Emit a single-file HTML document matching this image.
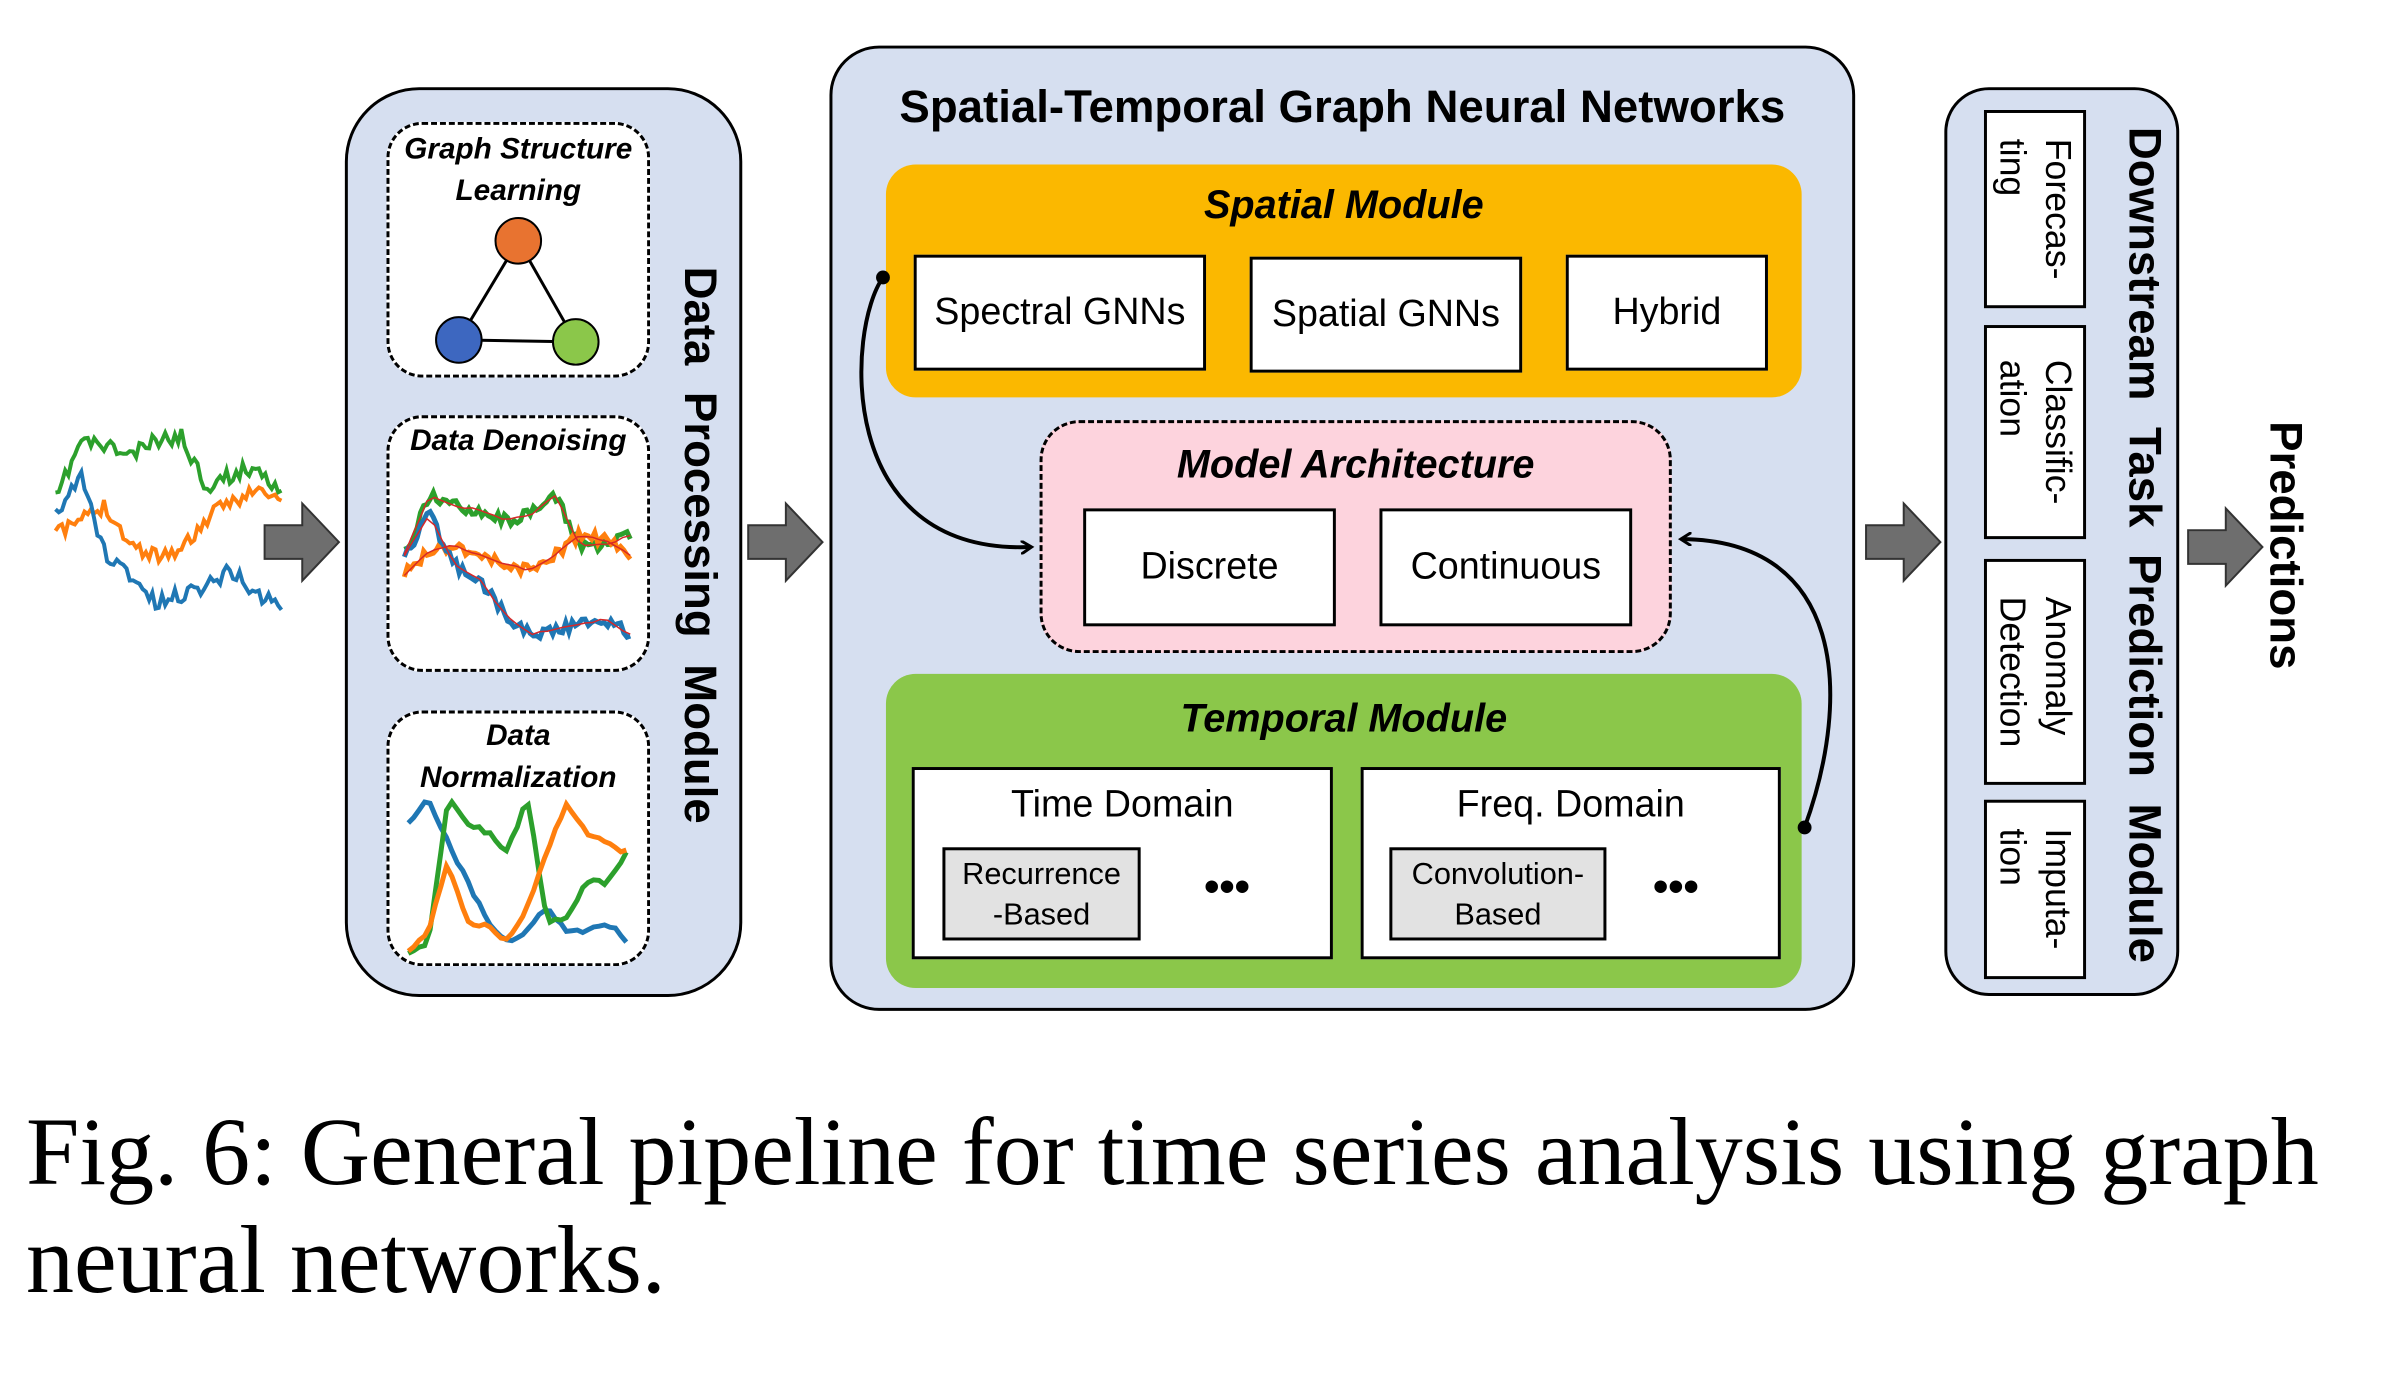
<!DOCTYPE html>
<html><head><meta charset="utf-8">
<style>
*{margin:0;padding:0;box-sizing:border-box}
body{width:2392px;height:1394px;background:#fff;position:relative;overflow:hidden;font-family:"Liberation Sans",sans-serif}
#wrap{position:absolute;left:0;top:0;width:2392px;height:1394px;transform:scale(0.991);transform-origin:0 0}
.a{position:absolute}
.box{position:absolute;background:#fff;border:3px solid #000;display:flex;align-items:center;justify-content:center;font-size:38px;color:#000}
.vt{writing-mode:vertical-rl;position:absolute;display:flex;align-items:center;justify-content:center}
.dash{position:absolute;border:3px dashed #000;border-radius:36px;background:#fff}
.lbl{position:absolute;font-weight:bold;font-style:italic;text-align:center;color:#000}
</style></head><body>
<div id="wrap">
<!-- Data processing -->
<div class="a" style="left:348px;top:88px;width:401px;height:918px;background:#d6dff0;border:3px solid #000;border-radius:75px"></div>
<div class="dash" style="left:390px;top:123px;width:266px;height:258px"></div>
<div class="dash" style="left:390px;top:419px;width:266px;height:259px"></div>
<div class="dash" style="left:390px;top:717px;width:266px;height:258px"></div>
<div class="lbl" style="left:390px;top:130px;width:266px;font-size:30px;line-height:42px">Graph Structure<br>Learning</div>
<div class="lbl" style="left:390px;top:428px;width:266px;font-size:30px">Data Denoising</div>
<div class="lbl" style="left:390px;top:722px;width:266px;font-size:30px;line-height:42px">Data<br>Normalization</div>
<div class="vt" style="left:672px;top:200px;width:70px;height:700px;font-weight:bold;font-size:46px;word-spacing:14px">Data Processing Module</div>

<!-- ST-GNN -->
<div class="a" style="left:837px;top:46px;width:1035px;height:974px;background:#d6dff0;border:3px solid #000;border-radius:50px"></div>
<div class="a" style="left:837px;top:80px;width:1035px;text-align:center;font-weight:bold;font-size:46px">Spatial-Temporal Graph Neural Networks</div>
<div class="a" style="left:894px;top:166px;width:924px;height:235px;background:#fbb800;border-radius:30px"></div>
<div class="lbl" style="left:894px;top:185px;width:924px;font-size:40px">Spatial Module</div>
<div class="box" style="left:922px;top:257px;width:295px;height:117px">Spectral GNNs</div>
<div class="box" style="left:1261px;top:259px;width:275px;height:117px">Spatial GNNs</div>
<div class="box" style="left:1580px;top:257px;width:204px;height:117px">Hybrid</div>

<div class="a" style="left:1049px;top:424px;width:638px;height:235px;background:#fdd3dd;border:3px dashed #000;border-radius:40px"></div>
<div class="lbl" style="left:1049px;top:447px;width:638px;font-size:40px">Model Architecture</div>
<div class="box" style="left:1093px;top:513px;width:255px;height:119px">Discrete</div>
<div class="box" style="left:1392px;top:513px;width:255px;height:119px">Continuous</div>

<div class="a" style="left:894px;top:680px;width:924px;height:317px;background:#8bc74a;border-radius:30px"></div>
<div class="lbl" style="left:894px;top:703px;width:924px;font-size:40px">Temporal Module</div>
<div class="box" style="left:920px;top:774px;width:425px;height:194px;align-items:flex-start;padding-top:14px">Time Domain</div>
<div class="box" style="left:1373px;top:774px;width:424px;height:194px;align-items:flex-start;padding-top:14px">Freq. Domain</div>
<div class="box" style="left:951px;top:855px;width:200px;height:94px;background:#e2e2e2;font-size:31px;line-height:41px;text-align:center">Recurrence<br>-Based</div>
<div class="box" style="left:1402px;top:855px;width:219px;height:94px;background:#e2e2e2;font-size:31px;line-height:41px;text-align:center">Convolution-<br>Based</div>
<div class="a" style="left:1215px;top:870px;font-size:44px;font-weight:bold">•••</div>
<div class="a" style="left:1668px;top:870px;font-size:44px;font-weight:bold">•••</div>

<!-- Downstream -->
<div class="a" style="left:1962px;top:88px;width:237px;height:917px;background:#d6dff0;border:3px solid #000;border-radius:45px"></div>
<div class="box vt" style="left:2002px;top:111px;width:103px;height:200px;font-size:36px;line-height:46px">Forecas-<br>ting</div>
<div class="box vt" style="left:2002px;top:328px;width:103px;height:216px;font-size:36px;line-height:46px">Classific-<br>ation</div>
<div class="box vt" style="left:2002px;top:564px;width:103px;height:228px;font-size:36px;line-height:46px">Anomaly<br>Detection</div>
<div class="box vt" style="left:2002px;top:807px;width:103px;height:181px;font-size:36px;line-height:46px">Imputa-<br>tion</div>
<div class="vt" style="left:2130px;top:110px;width:70px;height:880px;font-weight:bold;font-size:46px;word-spacing:14px">Downstream Task Prediction Module</div>
<div class="vt" style="left:2272px;top:400px;width:70px;height:300px;font-weight:bold;font-size:46px">Predictions</div>

<svg class="a" style="left:0;top:0" width="2392" height="1394" id="sv">
<defs><marker id="ah" markerWidth="14" markerHeight="14" refX="10" refY="7" orient="auto" markerUnits="userSpaceOnUse"><path d="M0,0 L11,7 L0,14" fill="none" stroke="#000" stroke-width="3"/></marker></defs>
</svg>
</div>

<div class="a" style="left:26px;top:1098px;font-family:'Liberation Serif',serif;font-size:96px;line-height:108px;color:#000;white-space:nowrap">Fig. 6: General pipeline for time series analysis using graph<br>neural networks.</div>

<script>
var sv=document.getElementById('sv'),NS='http://www.w3.org/2000/svg';
function el(t,a){var e=document.createElementNS(NS,t);for(var k in a)e.setAttribute(k,a[k]);sv.appendChild(e);return e;}
[[267,508],[755,508],[1883,508],[2208,513]].forEach(function(p){var x=p[0],y=p[1];
el('path',{d:'M'+x+','+(y+22)+' h38 v-22 l37,39 l-37,39 v-22 h-38 z',fill:'#6e6e6e',stroke:'#333','stroke-width':2});});
el('path',{d:'M891,280 C855,330 840,560 1040,552',fill:'none',stroke:'#000','stroke-width':4,'marker-end':'url(#ah)'});
el('circle',{cx:891,cy:280,r:7,fill:'#000'});
el('path',{d:'M1821,835 C1870,700 1860,545 1697,544',fill:'none',stroke:'#000','stroke-width':4,'marker-end':'url(#ah)'});
el('circle',{cx:1821,cy:835,r:7,fill:'#000'});
el('line',{x1:523,y1:243,x2:463,y2:343,stroke:'#000','stroke-width':3});
el('line',{x1:523,y1:243,x2:581,y2:345,stroke:'#000','stroke-width':3});
el('line',{x1:463,y1:343,x2:581,y2:345,stroke:'#000','stroke-width':3});
el('circle',{cx:523,cy:243,r:23,fill:'#e87330',stroke:'#000','stroke-width':2});
el('circle',{cx:463,cy:343,r:23,fill:'#3d67c0',stroke:'#000','stroke-width':2});
el('circle',{cx:581,cy:345,r:23,fill:'#8bc74a',stroke:'#000','stroke-width':2});
var s=11;function r(){s=(s*16807)%2147483647;return s/2147483647-0.5;}
// walk following a target profile (array of y keypoints) plus noise
function walk(x0,x1,keys,amp,col,w,n){n=n||70;var d='';for(var i=0;i<=n;i++){var t=i/n*(keys.length-1),k=Math.floor(t),f=t-k;
 var base=keys[Math.min(k,keys.length-1)]*(1-f)+keys[Math.min(k+1,keys.length-1)]*f;var y=base+r()*amp;var x=x0+(x1-x0)*i/n;
 d+=(i?'L':'M')+x.toFixed(1)+','+y.toFixed(1);} el('path',{d:d,fill:'none',stroke:col,'stroke-width':w});}
// input
walk(56,284,[505,445,450,460,445,440,490,480,470,495],16,'#2ca02c',4);
walk(56,284,[540,525,510,550,560,555,525,505,495,505],16,'#ff7f0e',4);
walk(56,284,[520,480,560,580,610,600,590,575,600,610],16,'#1f77b4',4);
// denoising
walk(408,636,[560,500,510,515,525,520,500,550,550,540],12,'#2ca02c',5);
walk(408,636,[580,555,550,560,570,575,560,540,545,560],12,'#ff7f0e',5);
walk(408,636,[560,520,570,585,620,640,635,630,625,640],12,'#1f77b4',5);
walk(408,636,[560,500,510,515,525,520,500,550,550,540],2,'#d62728',1.5,30);
walk(408,636,[580,555,550,560,570,575,560,540,545,560],2,'#d62728',1.5,30);
walk(408,636,[560,520,570,585,620,640,635,630,625,640],2,'#d62728',1.5,30);
// normalization
walk(412,632,[830,805,850,890,930,950,940,915,940,940,930,950],5,'#1f77b4',5,40);
walk(412,632,[960,955,805,830,840,860,805,930,925,890,890,860],5,'#2ca02c',5,40);
walk(412,632,[960,940,870,930,935,950,915,860,810,840,850,860],5,'#ff7f0e',5,40);
</script>
</body></html>
